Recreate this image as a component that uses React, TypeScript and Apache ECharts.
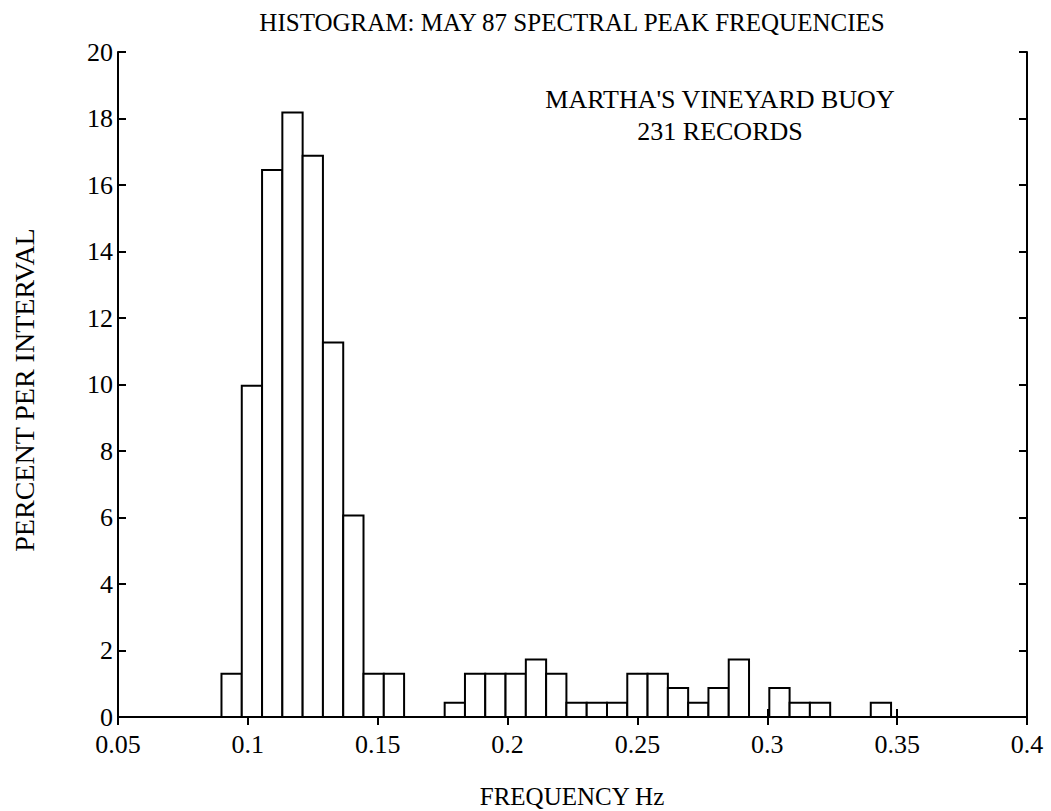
import React, { useEffect, useRef } from "react";
import * as echarts from "echarts";

// Bin centres (Hz) – bins are 1/128 Hz wide
const binCenters = [
  0.09375, 0.1015625, 0.109375, 0.1171875, 0.125, 0.1328125, 0.140625, 0.1484375,
  0.15625, 0.1640625, 0.171875, 0.1796875, 0.1875, 0.1953125, 0.203125, 0.2109375,
  0.21875, 0.2265625, 0.234375, 0.2421875, 0.25, 0.2578125, 0.265625, 0.2734375,
  0.28125, 0.2890625, 0.296875, 0.3046875, 0.3125, 0.3203125, 0.328125, 0.3359375,
  0.34375,
];
// Percent of records per interval
const percentValues = [
  1.3, 9.96, 16.45, 18.18, 16.88, 11.26, 6.06, 1.3,
  1.3, 0, 0, 0.43, 1.3, 1.3, 1.3, 1.73,
  1.3, 0.43, 0.43, 0.43, 1.3, 1.3, 0.87, 0.43,
  0.87, 1.73, 0, 0.87, 0.43, 0.43, 0, 0,
  0.43,
];
const xTicks = [0.05, 0.1, 0.15, 0.2, 0.25, 0.3, 0.35, 0.4];
const yTicks = [0, 2, 4, 6, 8, 10, 12, 14, 16, 18, 20];

const BIN_WIDTH = 1 / 128;
const FONT = "'Liberation Serif', 'DejaVu Serif', serif";
const FS = 26;

export default function App() {
  const ref = useRef<HTMLDivElement>(null);
  useEffect(() => {
    if (!ref.current) return;
    const chart = echarts.init(ref.current, null, { renderer: "svg" });
    const data = binCenters.map((c, i) => [c, percentValues[i]]);
    const xMin = xTicks[0];
    const xMax = xTicks[xTicks.length - 1];
    const yMin = yTicks[0];
    const yMax = yTicks[yTicks.length - 1];
    const fmt = (v: number) => String(Math.round(v * 1000) / 1000);
    const axisLine = { show: true, lineStyle: { color: "#000", width: 2 } };
    const tick = { show: true, inside: true, length: 8, lineStyle: { color: "#000", width: 2 } };
    const label = { color: "#000", fontFamily: FONT, fontSize: FS };
    chart.setOption({
      animation: false,
      backgroundColor: "#fff",
      grid: { left: 118, right: 24, top: 52, bottom: 94 },
      xAxis: [
        {
          type: "value", min: xMin, max: xMax, interval: 0.05, position: "bottom",
          axisLine, axisTick: tick, splitLine: { show: false },
          axisLabel: { ...label, margin: 14, formatter: fmt },
        },
        {
          type: "value", min: xMin, max: xMax, interval: 0.05, position: "top",
          axisLine, axisTick: tick, splitLine: { show: false }, axisLabel: { show: false },
        },
      ],
      yAxis: [
        {
          type: "value", min: yMin, max: yMax, interval: 2, position: "left",
          axisLine, axisTick: tick, splitLine: { show: false },
          axisLabel: { ...label, margin: 5 },
        },
        {
          type: "value", min: yMin, max: yMax, interval: 2, position: "right",
          axisLine, axisTick: tick, splitLine: { show: false }, axisLabel: { show: false },
        },
      ],
      series: [
        {
          type: "custom",
          xAxisIndex: 0,
          yAxisIndex: 0,
          data,
          renderItem: (params: any, api: any) => {
            const c = api.value(0);
            const v = api.value(1);
            const p1 = api.coord([c - BIN_WIDTH / 2, v]);
            const p2 = api.coord([c + BIN_WIDTH / 2, 0]);
            return {
              type: "rect",
              shape: { x: p1[0], y: p1[1], width: p2[0] - p1[0], height: p2[1] - p1[1] },
              style: { fill: "#fff", stroke: "#000", lineWidth: 2 },
            };
          },
        },
      ],
      graphic: [
        {
          type: "text", x: 572, y: 22,
          style: { text: "HISTOGRAM: MAY 87 SPECTRAL PEAK FREQUENCIES", font: `${FS - 1}px ${FONT}`, fill: "#000", align: "center", verticalAlign: "middle" },
        },
        {
          type: "text", x: 720, y: 99,
          style: { text: "MARTHA'S VINEYARD BUOY", font: `${FS}px ${FONT}`, fill: "#000", align: "center", verticalAlign: "middle" },
        },
        {
          type: "text", x: 720, y: 131,
          style: { text: "231 RECORDS", font: `${FS}px ${FONT}`, fill: "#000", align: "center", verticalAlign: "middle" },
        },
        {
          type: "text", x: 572, y: 796,
          style: { text: "FREQUENCY Hz", font: `${FS - 1}px ${FONT}`, fill: "#000", align: "center", verticalAlign: "middle" },
        },
        {
          type: "text", x: 24, y: 390, rotation: Math.PI / 2,
          style: { text: "PERCENT PER INTERVAL", font: `${FS + 2}px ${FONT}`, fill: "#000", align: "center", verticalAlign: "middle" },
        },
      ],
    });
    return () => chart.dispose();
  }, []);
  return <div ref={ref} style={{ width: 1051, height: 811, position: "absolute", left: 0, top: 0 }} />;
}
